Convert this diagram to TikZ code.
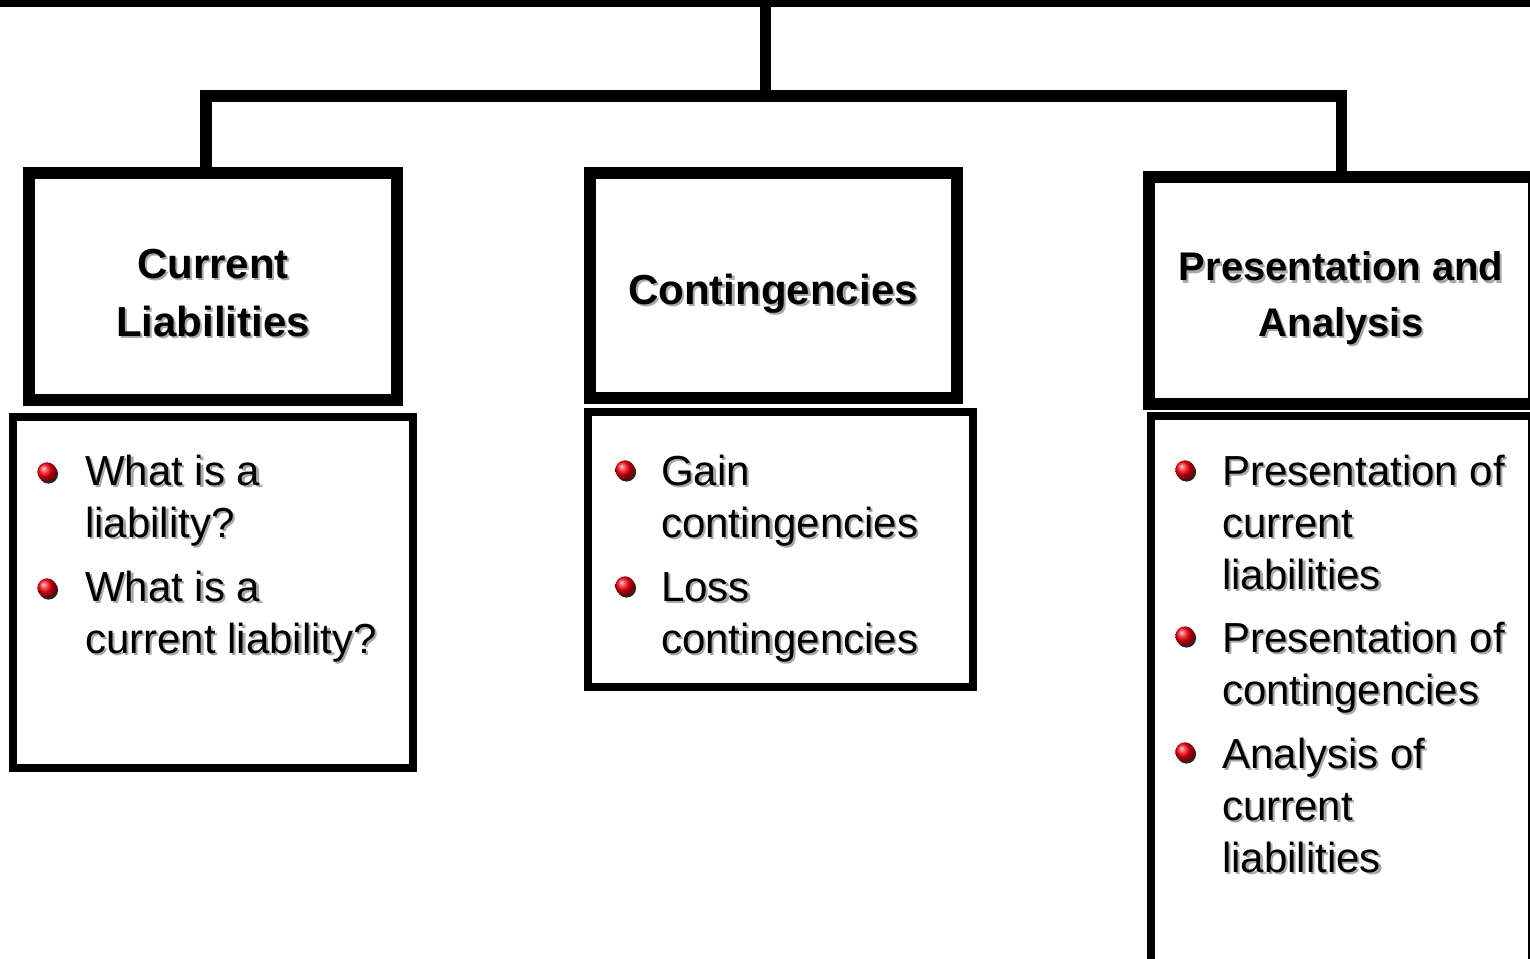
\documentclass[tikz,border=0pt]{standalone}
\usepackage{fontspec}
\setmainfont{Liberation Sans}
\definecolor{shadowgray}{HTML}{A8A8A8}
\definecolor{bulletred}{HTML}{FF0010}
% text with a soft grey drop shadow
\newcommand{\shadowed}[1]{\leavevmode\rlap{\kern1.6pt\raisebox{-1.6pt}{\textcolor{shadowgray}{#1}}}#1}
\tikzset{
  titlebox/.style={draw, line width=9pt, rectangle, inner sep=0pt, fill=white},
  listbox/.style={draw, line width=6pt, rectangle, inner sep=0pt, fill=white},
  conn/.style={line width=8.5pt, line join=miter, line cap=butt},
  item/.style={anchor=base west, inner sep=0pt, font=\fontsize{31.5}{39}\selectfont},
  head/.style={anchor=base, inner sep=0pt, font=\fontsize{31.5}{39}\selectfont\bfseries},
  bullet/.style={circle, inner sep=0pt, minimum size=14.5pt, shading=ball, ball color=bulletred},
  bshadow/.style={fill=black!85}
}
\begin{document}
\begin{tikzpicture}[x=0.75pt, y=-0.75pt]
\useasboundingbox (0,0) rectangle (1530,959);
\clip (0,0) rectangle (1530,959);

% frame edge along the top
\node[fill=black, inner sep=0pt, minimum width=1160pt, minimum height=10pt] (top) at (765,0) {};

% title boxes
\node[titlebox, minimum width=276pt, minimum height=170.25pt] (cl) at (213,286.5) {};
\node[titlebox, minimum width=275.25pt, minimum height=168.75pt] (co) at (773.5,285.5) {};
\node[titlebox, minimum width=288.75pt, minimum height=170.25pt] (pa) at (1341.5,290.5) {};

% tree connectors
\coordinate (root) at (765.5,4);
\coordinate (bus) at (765.5,96);
\coordinate (clin) at (206,173);
\draw[conn] (root) -- (bus);
\draw[conn] (clin) |- (bus) -| (pa.north);

% list boxes
\node[listbox, minimum width=300pt, minimum height=263.25pt] (l1) at (213,592.5) {};
\node[listbox, minimum width=288.75pt, minimum height=206.25pt] (l2) at (780.5,549.5) {};
\node[listbox, minimum width=285.75pt, minimum height=435pt] (l3) at (1341.5,706) {};

% headings
\node[head] (h1a) at (213,278) {\shadowed{Current}};
\node[head] (h1b) at (213,336) {\shadowed{Liabilities}};
\node[head] (h2) at (773,304) {\shadowed{Contingencies}};
\node[head, font=\fontsize{30}{37}\selectfont\bfseries] (h3a) at (1341,281) {\shadowed{Presentation and}};
\node[head, font=\fontsize{30}{37}\selectfont\bfseries] (h3b) at (1341,336) {\shadowed{Analysis}};

% bullets
\foreach \n/\bx/\by in {b11/47/472, b12/47/588, b21/625/470, b22/625/586,
                        b31/1185/470, b32/1185/636, b33/1185/752} {
  \fill[bshadow] (\bx+1.5,\by+2) circle[radius=7.2pt];
  \node[bullet] (\n) at (\bx,\by) {};
}

% list items: current liabilities
\node[item] (t11) at (85,485) {\shadowed{What is a}};
\node[item] (t12) at (85,537) {\shadowed{liability?}};
\node[item] (t13) at (85,601) {\shadowed{What is a}};
\node[item] (t14) at (85,653) {\shadowed{current liability?}};

% list items: contingencies
\node[item] (t21) at (661,485) {\shadowed{Gain}};
\node[item] (t22) at (661,537) {\shadowed{contingencies}};
\node[item] (t23) at (661,601) {\shadowed{Loss}};
\node[item] (t24) at (661,653) {\shadowed{contingencies}};

% list items: presentation and analysis
\node[item] (t31) at (1222,485) {\shadowed{Presentation of}};
\node[item] (t32) at (1222,537) {\shadowed{current}};
\node[item] (t33) at (1222,589) {\shadowed{liabilities}};
\node[item] (t34) at (1222,652) {\shadowed{Presentation of}};
\node[item] (t35) at (1222,704) {\shadowed{contingencies}};
\node[item] (t36) at (1222,768) {\shadowed{Analysis of}};
\node[item] (t37) at (1222,820) {\shadowed{current}};
\node[item] (t38) at (1222,872) {\shadowed{liabilities}};
\end{tikzpicture}
\end{document}
